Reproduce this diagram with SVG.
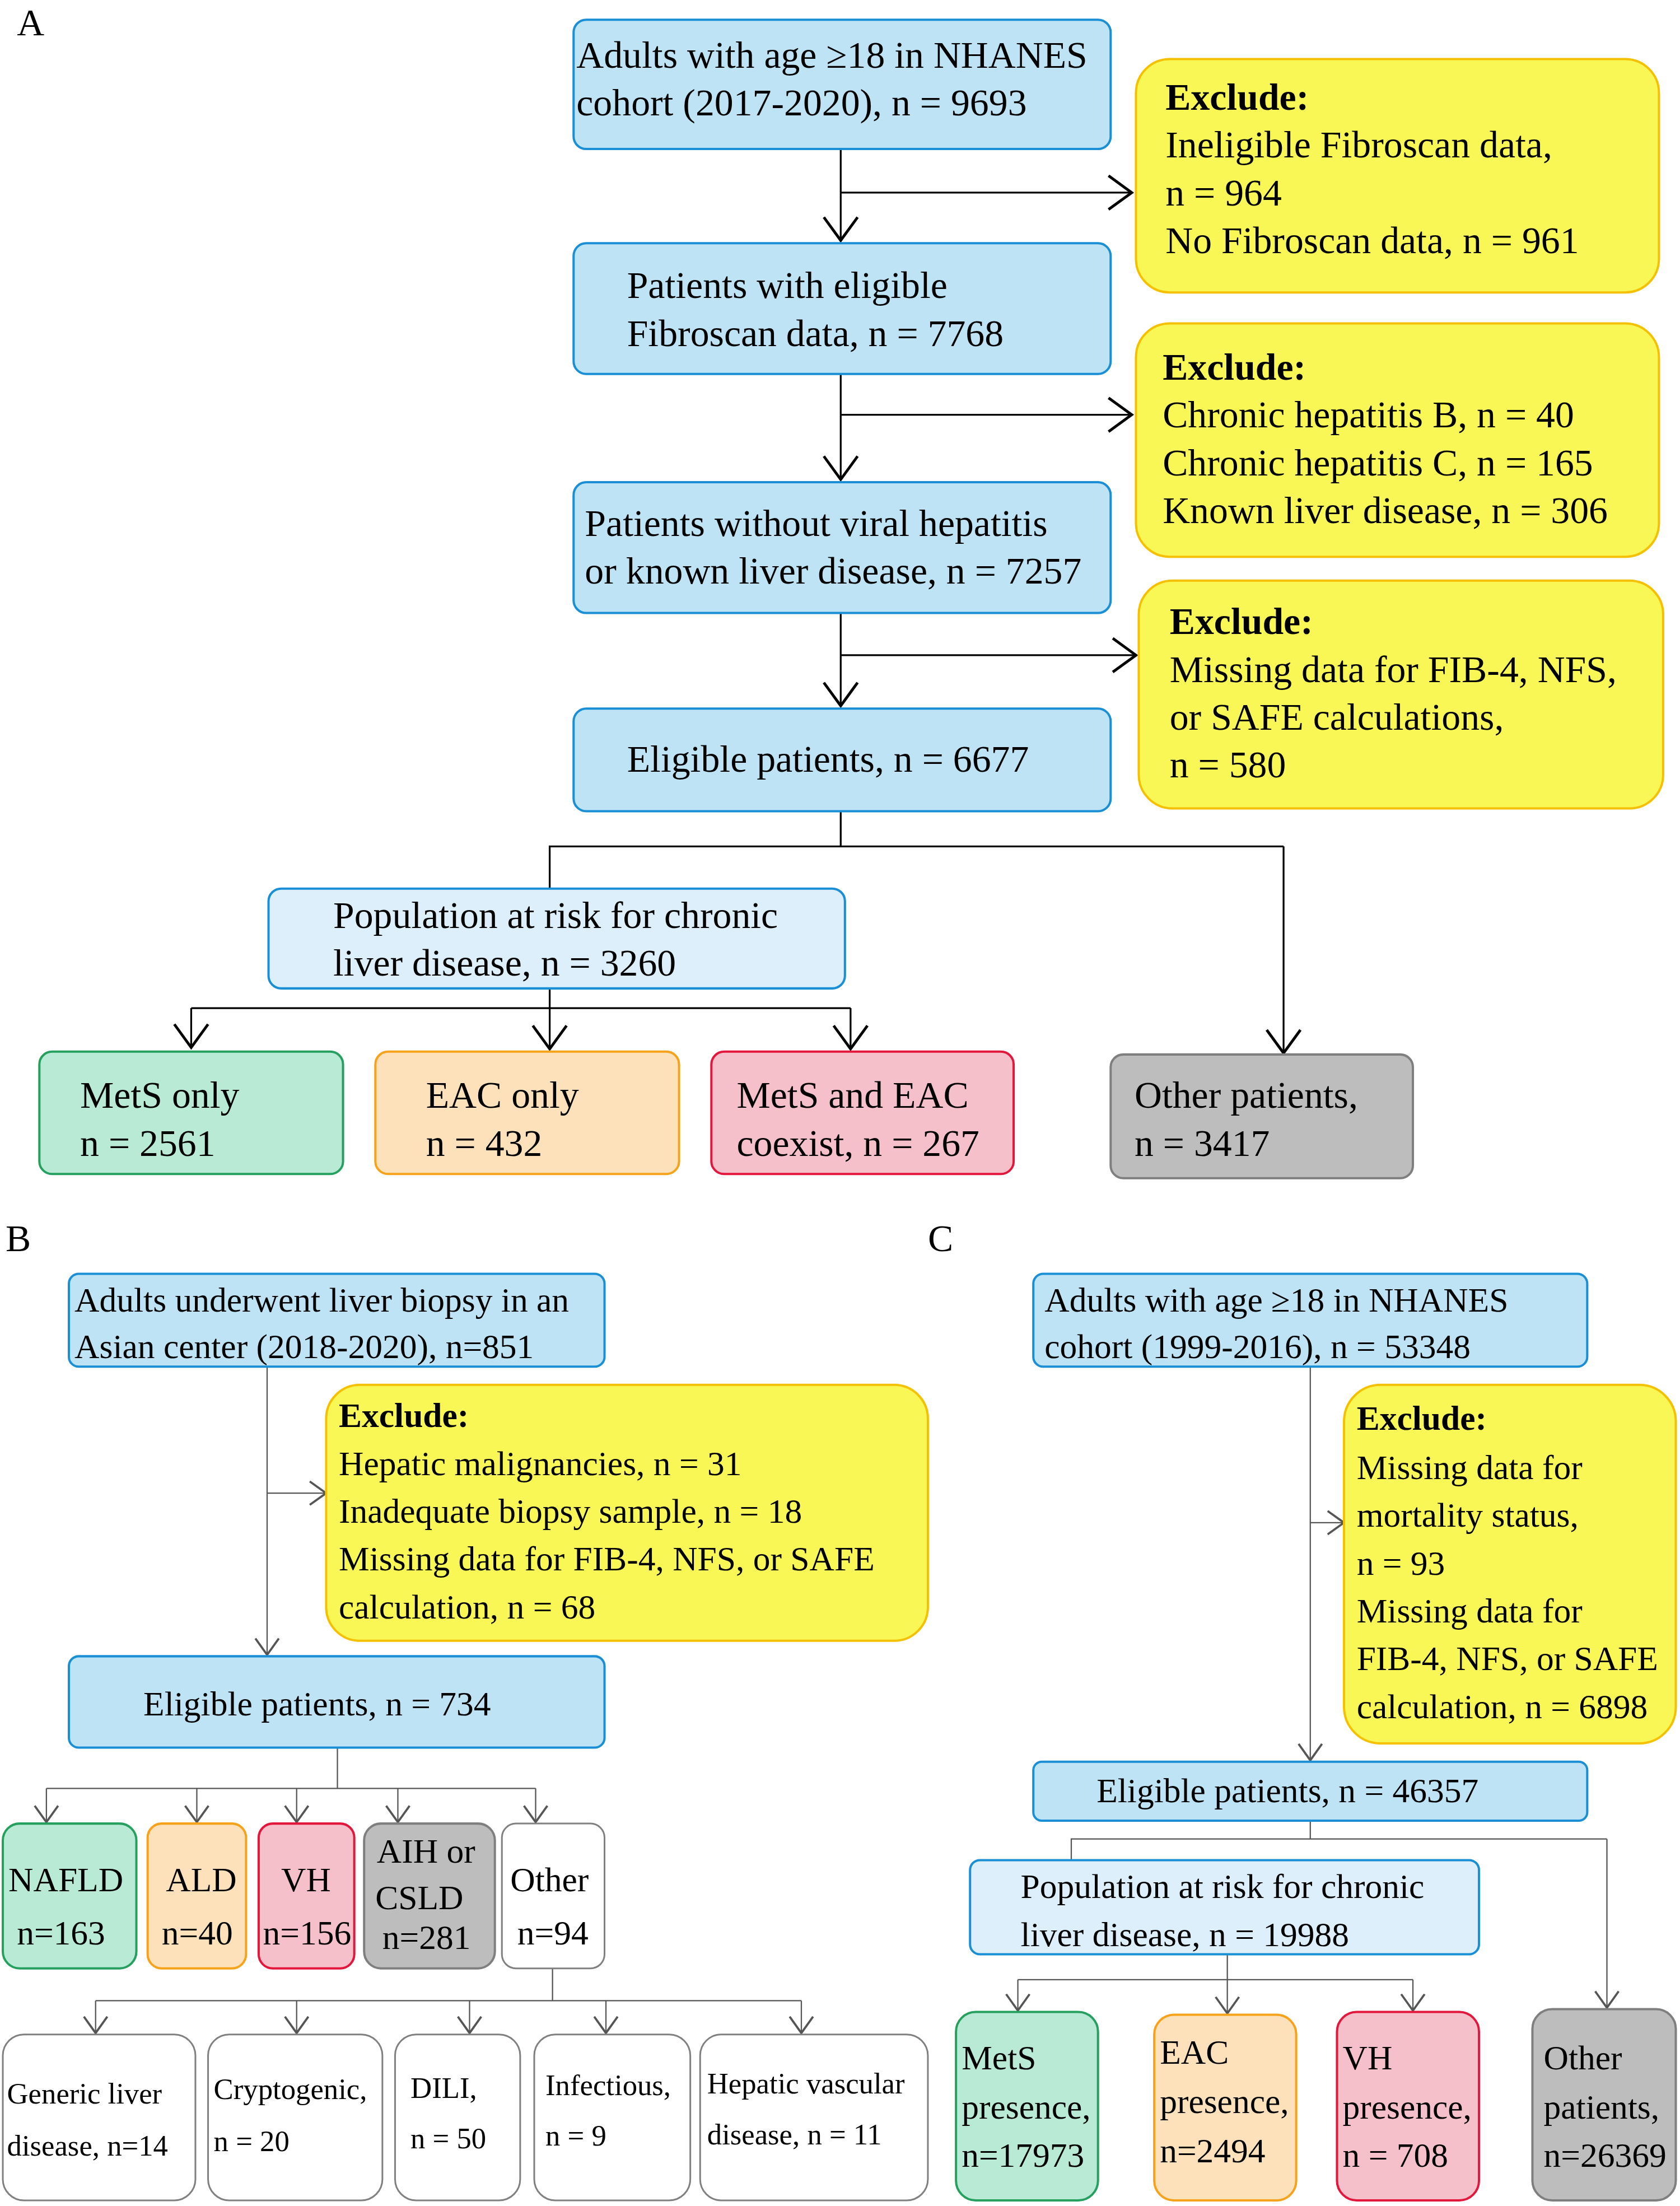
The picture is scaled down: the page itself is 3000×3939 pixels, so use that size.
<svg xmlns="http://www.w3.org/2000/svg" width="3000" height="3939" viewBox="0 0 3000 3939">
<style>
.t{font-family:"Liberation Serif","Times New Roman",serif;fill:#000}
.a{font-size:27px}.b{font-size:24.5px}.s{font-size:21px}
.bold{font-weight:bold}
.blue{fill:#bde3f5;stroke:#1a8fd6;stroke-width:1.6}
.lb{fill:#ddeffa;stroke:#1a8fd6;stroke-width:1.6}
.yel{fill:#f8f756;stroke:#f5c000;stroke-width:1.6}
.grn{fill:#b9ead6;stroke:#26a05e;stroke-width:1.6}
.org{fill:#fde1bb;stroke:#f7a21b;stroke-width:1.6}
.pnk{fill:#f6c0cb;stroke:#e3173c;stroke-width:1.6}
.gry{fill:#bdbdbd;stroke:#7f7f7f;stroke-width:1.6}
.wht{fill:#fff;stroke:#808080;stroke-width:1.2}
.c{fill:none;stroke:#000;stroke-width:1.3}
.c2{fill:none;stroke:#555;stroke-width:0.9}
</style>
<defs>
<marker id="ah" markerUnits="userSpaceOnUse" markerWidth="30" markerHeight="30" refX="0" refY="0" viewBox="-12 -10 14 20" orient="auto" overflow="visible"><path d="M-11,-8 L0,0 L-11,8" fill="none" stroke="#000" stroke-width="1.3"/></marker>
<marker id="ah2" markerUnits="userSpaceOnUse" markerWidth="20" markerHeight="20" refX="0" refY="0" viewBox="-8 -6 10 12" orient="auto" overflow="visible"><path d="M-7,-5 L0,0 L-7,5" fill="none" stroke="#555" stroke-width="0.9"/></marker>
</defs>
<rect width="3000" height="3939" fill="#fff"/>
<g transform="scale(2.5105)">
<text class="t a" x="12" y="25">A</text>
<text class="t a" x="4" y="890">B</text>
<text class="t a" x="660" y="890">C</text>
<g id="connectors">
<path class="c" d="M598,106 V171" marker-end="url(#ah)"/>
<path class="c" d="M598,137 H805" marker-end="url(#ah)"/>
<path class="c" d="M598,266 V341" marker-end="url(#ah)"/>
<path class="c" d="M598,295 H805" marker-end="url(#ah)"/>
<path class="c" d="M598,436 V502" marker-end="url(#ah)"/>
<path class="c" d="M598,466 H808" marker-end="url(#ah)"/>
<path class="c" d="M598,577 V602 M391,632 V602 H913"/>
<path class="c" d="M913,602 V749" marker-end="url(#ah)"/>
<path class="c" d="M391,703 V717 M136,717 H605"/>
<path class="c" d="M136,717 V745" marker-end="url(#ah)"/>
<path class="c" d="M391,717 V746" marker-end="url(#ah)"/>
<path class="c" d="M605,717 V746" marker-end="url(#ah)"/>
<path class="c2" d="M190,972 V1177" marker-end="url(#ah2)"/>
<path class="c2" d="M190,1062 H232" marker-end="url(#ah2)"/>
<path class="c2" d="M240,1243 V1272 M33,1272 H381"/>
<path class="c2" d="M33,1272 V1296" marker-end="url(#ah2)"/>
<path class="c2" d="M140,1272 V1296" marker-end="url(#ah2)"/>
<path class="c2" d="M211,1272 V1296" marker-end="url(#ah2)"/>
<path class="c2" d="M283,1272 V1296" marker-end="url(#ah2)"/>
<path class="c2" d="M381,1272 V1296" marker-end="url(#ah2)"/>
<path class="c2" d="M393,1400 V1423 M68,1423 H570"/>
<path class="c2" d="M68,1423 V1446" marker-end="url(#ah2)"/>
<path class="c2" d="M211,1423 V1446" marker-end="url(#ah2)"/>
<path class="c2" d="M334,1423 V1446" marker-end="url(#ah2)"/>
<path class="c2" d="M431,1423 V1446" marker-end="url(#ah2)"/>
<path class="c2" d="M570,1423 V1446" marker-end="url(#ah2)"/>
<path class="c2" d="M932,972 V1252" marker-end="url(#ah2)"/>
<path class="c2" d="M932,1083 H956" marker-end="url(#ah2)"/>
<path class="c2" d="M932,1295 V1308 M762,1323 V1308 H1143"/>
<path class="c2" d="M1143,1308 V1428" marker-end="url(#ah2)"/>
<path class="c2" d="M873,1390 V1408 M724,1408 H1005"/>
<path class="c2" d="M724,1408 V1430" marker-end="url(#ah2)"/>
<path class="c2" d="M873,1408 V1432" marker-end="url(#ah2)"/>
<path class="c2" d="M1005,1408 V1430" marker-end="url(#ah2)"/>
</g>
<g id="a1"><rect class="blue" x="408" y="14" width="382" height="92" rx="9"/><text class="t a" x="410" y="48">Adults with age ≥18 in NHANES</text><text class="t a" x="410" y="82">cohort (2017-2020), n = 9693</text></g>
<g id="ax1"><rect class="yel" x="808" y="42" width="372" height="166" rx="24"/><text class="t a bold" x="829" y="78">Exclude:</text><text class="t a" x="829" y="112">Ineligible Fibroscan data,</text><text class="t a" x="829" y="146">n = 964</text><text class="t a" x="829" y="180">No Fibroscan data, n = 961</text></g>
<g id="a2"><rect class="blue" x="408" y="173" width="382" height="93" rx="9"/><text class="t a" x="446" y="212">Patients with eligible</text><text class="t a" x="446" y="246">Fibroscan data, n = 7768</text></g>
<g id="ax2"><rect class="yel" x="808" y="230" width="372" height="166" rx="24"/><text class="t a bold" x="827" y="270">Exclude:</text><text class="t a" x="827" y="304">Chronic hepatitis B, n = 40</text><text class="t a" x="827" y="338">Chronic hepatitis C, n = 165</text><text class="t a" x="827" y="372">Known liver disease, n = 306</text></g>
<g id="a3"><rect class="blue" x="408" y="343" width="382" height="93" rx="9"/><text class="t a" x="416" y="381">Patients without viral hepatitis</text><text class="t a" x="416" y="415">or known liver disease, n = 7257</text></g>
<g id="ax3"><rect class="yel" x="810" y="413" width="373" height="162" rx="24"/><text class="t a bold" x="832" y="451">Exclude:</text><text class="t a" x="832" y="485">Missing data for FIB-4, NFS,</text><text class="t a" x="832" y="519">or SAFE calculations,</text><text class="t a" x="832" y="553">n = 580</text></g>
<g id="a4"><rect class="blue" x="408" y="504" width="382" height="73" rx="9"/><text class="t a" x="446" y="549">Eligible patients, n = 6677</text></g>
<g id="a5"><rect class="lb" x="191" y="632" width="410" height="71" rx="9"/><text class="t a" x="237" y="660">Population at risk for chronic</text><text class="t a" x="237" y="694">liver disease, n = 3260</text></g>
<g id="a6"><rect class="grn" x="28" y="748" width="216" height="87" rx="9"/><text class="t a" x="57" y="788">MetS only</text><text class="t a" x="57" y="822">n = 2561</text></g>
<g id="a7"><rect class="org" x="267" y="748" width="216" height="87" rx="9"/><text class="t a" x="303" y="788">EAC only</text><text class="t a" x="303" y="822">n = 432</text></g>
<g id="a8"><rect class="pnk" x="506" y="748" width="215" height="87" rx="9"/><text class="t a" x="524" y="788">MetS and EAC</text><text class="t a" x="524" y="822">coexist, n = 267</text></g>
<g id="a9"><rect class="gry" x="790" y="750" width="215" height="88" rx="9"/><text class="t a" x="807" y="788">Other patients,</text><text class="t a" x="807" y="822">n = 3417</text></g>
<g id="b1"><rect class="blue" x="49" y="906" width="381" height="66" rx="7"/><text class="t b" x="53" y="933">Adults underwent liver  biopsy in an</text><text class="t b" x="53" y="966">Asian center (2018-2020), n=851</text></g>
<g id="bx"><rect class="yel" x="232" y="985" width="428" height="182" rx="24"/><text class="t b bold" x="241" y="1015">Exclude:</text><text class="t b" x="241" y="1049">Hepatic malignancies, n = 31</text><text class="t b" x="241" y="1083">Inadequate biopsy sample, n = 18</text><text class="t b" x="241" y="1117">Missing data for FIB-4, NFS, or SAFE</text><text class="t b" x="241" y="1151">calculation, n = 68</text></g>
<g id="b2"><rect class="blue" x="49" y="1178" width="381" height="65" rx="7"/><text class="t b" x="102" y="1220">Eligible patients, n = 734</text></g>
<g id="b3"><rect class="grn" x="2" y="1297" width="95" height="103" rx="12"/><text class="t b" x="6" y="1345">NAFLD</text><text class="t b" x="12" y="1383">n=163</text></g>
<g id="b4"><rect class="org" x="105" y="1297" width="70" height="103" rx="10"/><text class="t b" x="118" y="1345">ALD</text><text class="t b" x="115" y="1383">n=40</text></g>
<g id="b5"><rect class="pnk" x="184" y="1297" width="68" height="103" rx="10"/><text class="t b" x="200" y="1345">VH</text><text class="t b" x="187" y="1383">n=156</text></g>
<g id="b6"><rect class="gry" x="259" y="1297" width="93" height="103" rx="12"/><text class="t b" x="268" y="1325">AIH or</text><text class="t b" x="267" y="1358">CSLD</text><text class="t b" x="272" y="1386">n=281</text></g>
<g id="b7"><rect class="wht" x="357" y="1297" width="73" height="103" rx="10"/><text class="t b" x="363" y="1345">Other</text><text class="t b" x="368" y="1383">n=94</text></g>
<g id="b8"><rect class="wht" x="2" y="1447" width="137" height="118" rx="15"/><text class="t s" x="5" y="1496">Generic liver</text><text class="t s" x="5" y="1533">disease, n=14</text></g>
<g id="b9"><rect class="wht" x="148" y="1447" width="124" height="118" rx="15"/><text class="t s" x="152" y="1493">Cryptogenic,</text><text class="t s" x="152" y="1530">n = 20</text></g>
<g id="b10"><rect class="wht" x="281" y="1447" width="89" height="118" rx="15"/><text class="t s" x="292" y="1492">DILI,</text><text class="t s" x="292" y="1528">n = 50</text></g>
<g id="b11"><rect class="wht" x="380" y="1447" width="111" height="118" rx="15"/><text class="t s" x="388" y="1490">Infectious,</text><text class="t s" x="388" y="1526">n = 9</text></g>
<g id="b12"><rect class="wht" x="498" y="1447" width="162" height="118" rx="15"/><text class="t s" x="503" y="1489">Hepatic vascular</text><text class="t s" x="503" y="1525">disease, n = 11</text></g>
<g id="c1"><rect class="blue" x="735" y="906" width="394" height="66" rx="7"/><text class="t b" x="743" y="933">Adults with age ≥18 in NHANES</text><text class="t b" x="743" y="966">cohort (1999-2016), n = 53348</text></g>
<g id="cx"><rect class="yel" x="956" y="985" width="236" height="255" rx="26"/><text class="t b bold" x="965" y="1017">Exclude:</text><text class="t b" x="965" y="1052">Missing data for</text><text class="t b" x="965" y="1086">mortality status,</text><text class="t b" x="965" y="1120">n = 93</text><text class="t b" x="965" y="1154">Missing data for</text><text class="t b" x="965" y="1188">FIB-4, NFS, or SAFE</text><text class="t b" x="965" y="1222">calculation, n = 6898</text></g>
<g id="c2"><rect class="blue" x="735" y="1253" width="394" height="42" rx="6"/><text class="t b" x="780" y="1282">Eligible patients, n = 46357</text></g>
<g id="c3"><rect class="lb" x="690" y="1323" width="362" height="67" rx="7"/><text class="t b" x="726" y="1350">Population at risk for chronic</text><text class="t b" x="726" y="1384">liver disease, n = 19988</text></g>
<g id="c4"><rect class="grn" x="680" y="1431" width="101" height="134" rx="14"/><text class="t b" x="684" y="1472">MetS</text><text class="t b" x="684" y="1507">presence,</text><text class="t b" x="684" y="1541">n=17973</text></g>
<g id="c5"><rect class="org" x="821" y="1433" width="101" height="132" rx="14"/><text class="t b" x="825" y="1468">EAC</text><text class="t b" x="825" y="1503">presence,</text><text class="t b" x="825" y="1538">n=2494</text></g>
<g id="c6"><rect class="pnk" x="951" y="1431" width="101" height="134" rx="14"/><text class="t b" x="955" y="1472">VH</text><text class="t b" x="955" y="1507">presence,</text><text class="t b" x="955" y="1541">n = 708</text></g>
<g id="c7"><rect class="gry" x="1090" y="1429" width="102" height="136" rx="14"/><text class="t b" x="1098" y="1472">Other</text><text class="t b" x="1098" y="1507">patients,</text><text class="t b" x="1098" y="1541">n=26369</text></g>
</g>
</svg>
